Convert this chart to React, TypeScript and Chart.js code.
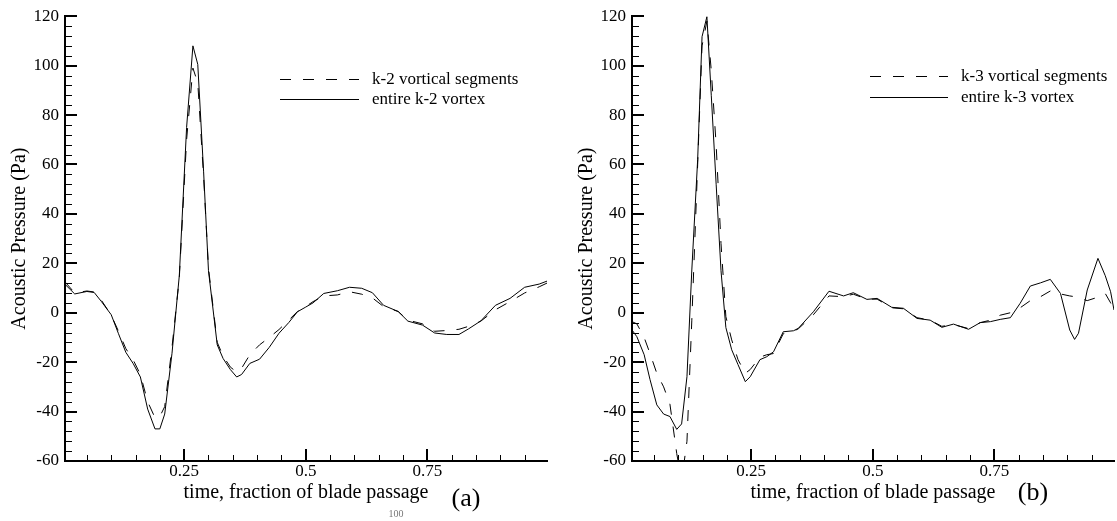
import React, { useEffect, useRef } from 'react';
import { Chart, registerables } from 'chart.js';

Chart.register(...registerables);

// ---------- data ----------
const T_A = [0.005, 0.025, 0.05, 0.065, 0.08, 0.1, 0.115, 0.13, 0.145, 0.16, 0.175, 0.19, 0.2, 0.21, 0.225, 0.24, 0.255, 0.268, 0.278, 0.29, 0.3, 0.318, 0.33, 0.345, 0.358, 0.368, 0.385, 0.405, 0.425, 0.445, 0.465, 0.483, 0.5, 0.515, 0.537, 0.565, 0.59, 0.615, 0.637, 0.66, 0.69, 0.71, 0.74, 0.765, 0.79, 0.815, 0.835, 0.86, 0.89, 0.92, 0.95, 0.98, 0.996];
const SEG_A = [12.5, 8, 8.8, 8.4, 5, -1, -7.5, -14.5, -19, -25, -36, -42.5, -42, -38, -14, 14, 70, 99, 93, 55, 18, -12, -17.5, -22, -24, -22.5, -17, -13, -10, -6.8, -3, 0.5, 2.5, 4.5, 6.8, 7.2, 8.5, 7.5, 6, 2.5, 0.5, -3, -4.5, -7.5, -7.2, -6.7, -5.5, -3.4, 1.2, 4.5, 8, 10.5, 12];
const ENT_A = [11.5, 7.6, 8.6, 8.2, 4.5, -0.8, -8.5, -16, -20.5, -26, -39, -47, -47, -41, -16.4, 15, 75, 108, 100.5, 57, 17, -13, -18.5, -23, -26, -25, -20.5, -18.8, -14, -8.3, -4, 0.4, 2.3, 4, 7.8, 8.9, 10.3, 9.9, 8.1, 3, 0.5, -3.4, -5, -8.2, -8.8, -8.8, -6.5, -3.3, 3, 5.8, 10.3, 11.6, 12.8];

const T_B = [0.005, 0.015, 0.03, 0.042, 0.056, 0.07, 0.083, 0.097, 0.107, 0.118, 0.128, 0.14, 0.149, 0.159, 0.168, 0.178, 0.188, 0.198, 0.21, 0.223, 0.238, 0.248, 0.268, 0.282, 0.296, 0.316, 0.337, 0.347, 0.378, 0.41, 0.44, 0.46, 0.488, 0.509, 0.539, 0.563, 0.591, 0.618, 0.642, 0.666, 0.697, 0.721, 0.742, 0.762, 0.783, 0.803, 0.824, 0.845, 0.865, 0.886, 0.905, 0.915, 0.923, 0.941, 0.963, 0.978, 0.989, 0.996];
const SEG_B = [-3.6, -4.5, -10, -16.5, -24.5, -30, -37, -57, -68, -52, -3, 60, 108, 118, 98, 68, 28, -1.6, -11, -19, -24.5, -23, -18, -17, -16.5, -8.5, -7.5, -6.5, -0.8, 6.8, 6.5, 7.5, 5.5, 5.5, 2, 1.6, -2, -3, -5.5, -4.8, -6.4, -4, -3, -1, 0, 2, 4.9, 6.5, 8.8, 7.6, 6.8, 6.5, 6, 4.9, 6.3, 7.8, 4, 1];
const ENT_B = [-7, -9.7, -17, -27, -37.3, -41, -42, -47.2, -45, -25.9, 17.3, 62, 111.7, 119.8, 88, 52, 17, -6, -15, -21, -27.9, -25.9, -19, -17.8, -15.8, -7.7, -7.3, -6.3, 0.4, 8.7, 6.8, 8.1, 5.4, 5.8, 2.2, 1.8, -2.3, -3, -5.9, -4.6, -6.7, -4, -3.6, -2.7, -2, 3.8, 10.8, 12.1, 13.5, 7.8, -7, -10.8, -8.3, 9.2, 22, 15, 8.5, 1.1];

const X_TICKS = [0.05, 0.1, 0.15, 0.2, 0.25, 0.3, 0.35, 0.4, 0.45, 0.5, 0.55, 0.6, 0.65, 0.7, 0.75, 0.8, 0.85, 0.9, 0.95];
const X_MAJOR = [0.25, 0.5, 0.75];
const X_LABELS = ['0.25', '0.5', '0.75'];
const Y_TICKS = [-60, -56, -52, -48, -44, -40, -36, -32, -28, -24, -20, -16, -12, -8, -4, 0, 4, 8, 12, 16, 20, 24, 28, 32, 36, 40, 44, 48, 52, 56, 60, 64, 68, 72, 76, 80, 84, 88, 92, 96, 100, 104, 108, 112, 116, 120];
const Y_MAJOR = [-60, -40, -20, 0, 20, 40, 60, 80, 100, 120];
const Y_LABELS = ['-60', '-40', '-20', '0', '20', '40', '60', '80', '100', '120'];

const LEGEND_A = ['k-2 vortical segments', 'entire k-2 vortex'];
const LEGEND_B = ['k-3 vortical segments', 'entire k-3 vortex'];
const PANEL_A = '(a)';
const PANEL_B = '(b)';
const PAGE_NOTE = '100';
const X_TITLE = 'time, fraction of blade passage';
const Y_TITLE = 'Acoustic Pressure (Pa)';

// ---------- styling ----------
const FONT = '"Liberation Serif", "Times New Roman", serif';
Chart.defaults.font.family = FONT;
Chart.defaults.color = '#000';

const near = (a: number, b: number) => Math.abs(a - b) < 1e-6;
const idxIn = (arr: number[], v: number) => arr.findIndex((m) => near(m, v));

const tickPlugin = {
  id: 'inwardTicks',
  afterDraw(chart: any) {
    const { ctx, chartArea } = chart;
    const xs = chart.scales.x;
    const ys = chart.scales.y;
    ctx.save();
    ctx.strokeStyle = '#000';
    ctx.setLineDash([]);
    ys.ticks.forEach((t: any) => {
      const major = idxIn(Y_MAJOR, t.value) >= 0;
      const y = ys.getPixelForValue(t.value);
      ctx.lineWidth = major ? 2 : 1;
      const yy = major ? Math.round(y) : Math.round(y) + 0.5;
      ctx.beginPath();
      ctx.moveTo(chartArea.left, yy);
      ctx.lineTo(chartArea.left + (major ? 12 : 7), yy);
      ctx.stroke();
    });
    xs.ticks.forEach((t: any) => {
      const major = idxIn(X_MAJOR, t.value) >= 0;
      const x = xs.getPixelForValue(t.value);
      ctx.lineWidth = major ? 2 : 1;
      const xx = major ? Math.round(x) : Math.round(x) + 0.5;
      ctx.beginPath();
      ctx.moveTo(xx, chartArea.bottom);
      ctx.lineTo(xx, chartArea.bottom - (major ? 12 : 6));
      ctx.stroke();
    });
    ctx.restore();
  },
};

function overlayPlugin(o: {
  lineX0: number; lineX1: number; textX: number; legendY: number[];
  panel: string; panelX: number; panelY: number; note?: string; noteX?: number; noteY?: number;
}) {
  return {
    id: 'overlay',
    afterDraw(chart: any) {
      const ctx = chart.ctx;
      ctx.save();
      ctx.strokeStyle = '#000';
      ctx.fillStyle = '#000';
      ctx.lineWidth = 1;
      chart.data.datasets.forEach((ds: any, i: number) => {
        const y = o.legendY[i];
        ctx.setLineDash(ds.borderDash || []);
        ctx.beginPath();
        ctx.moveTo(o.lineX0, y + 0.5);
        ctx.lineTo(o.lineX1, y + 0.5);
        ctx.stroke();
        ctx.setLineDash([]);
        ctx.font = `17px ${FONT}`;
        ctx.textAlign = 'left';
        ctx.textBaseline = 'alphabetic';
        ctx.fillText(ds.label, o.textX, y + 5);
      });
      ctx.font = `26px ${FONT}`;
      ctx.textAlign = 'center';
      ctx.textBaseline = 'alphabetic';
      ctx.fillText(o.panel, o.panelX, o.panelY);
      if (o.note) {
        ctx.font = `10px ${FONT}`;
        ctx.fillStyle = '#777';
        ctx.fillText(o.note, o.noteX, o.noteY);
      }
      ctx.restore();
    },
  };
}

function buildConfig(
  t: number[], seg: number[], ent: number[], legend: string[], padRight: number, overlay: any
): any {
  return {
    type: 'line',
    data: {
      datasets: [
        {
          label: legend[0],
          data: t.map((x, i) => ({ x, y: seg[i] })),
          borderColor: '#000',
          borderWidth: 1,
          borderDash: [11, 12],
          pointRadius: 0,
          tension: 0,
          fill: false,
        },
        {
          label: legend[1],
          data: t.map((x, i) => ({ x, y: ent[i] })),
          borderColor: '#000',
          borderWidth: 1,
          pointRadius: 0,
          tension: 0,
          fill: false,
        },
      ],
    },
    options: {
      responsive: false,
      animation: false,
      devicePixelRatio: 1,
      layout: { padding: { top: 16, right: padRight, left: 0, bottom: 0 } },
      plugins: {
        legend: { display: false },
        tooltip: { enabled: false },
        title: { display: false },
      },
      scales: {
        x: {
          type: 'linear',
          min: 0.005,
          max: 0.996,
          afterBuildTicks: (s: any) => {
            s.ticks = X_TICKS.map((v) => ({ value: v }));
          },
          afterFit: (s: any) => {
            s.height = 60;
          },
          grid: { display: false, drawTicks: false },
          border: { display: true, color: '#000', width: 2 },
          ticks: {
            autoSkip: false,
            maxRotation: 0,
            minRotation: 0,
            padding: 0,
            color: '#000',
            font: { family: FONT, size: 17 },
            callback: (v: any) => {
              const i = idxIn(X_MAJOR, Number(v));
              return i >= 0 ? X_LABELS[i] : '';
            },
          },
          title: {
            display: true,
            text: X_TITLE,
            color: '#000',
            font: { family: FONT, size: 20 },
            padding: { top: 0, bottom: 16 },
          },
        },
        y: {
          type: 'linear',
          min: -60,
          max: 120,
          afterBuildTicks: (s: any) => {
            s.ticks = Y_TICKS.map((v) => ({ value: v }));
          },
          afterFit: (s: any) => {
            s.width = 65;
          },
          grid: { display: false, drawTicks: false },
          border: { display: true, color: '#000', width: 2 },
          ticks: {
            autoSkip: false,
            padding: 6,
            color: '#000',
            font: { family: FONT, size: 17 },
            callback: (v: any) => {
              const i = idxIn(Y_MAJOR, Number(v));
              return i >= 0 ? Y_LABELS[i] : '';
            },
          },
          title: {
            display: true,
            text: Y_TITLE,
            color: '#000',
            font: { family: FONT, size: 20 },
            padding: { top: 8, bottom: 0 },
          },
        },
      },
    },
    plugins: [tickPlugin, overlay],
  };
}

export default function App() {
  const refA = useRef<HTMLCanvasElement>(null);
  const refB = useRef<HTMLCanvasElement>(null);

  useEffect(() => {
    const a = new Chart(
      refA.current as HTMLCanvasElement,
      buildConfig(T_A, SEG_A, ENT_A, LEGEND_A, 13,
        overlayPlugin({
          lineX0: 280, lineX1: 359, textX: 372, legendY: [79, 99], panel: PANEL_A, panelX: 466, panelY: 506,
          note: PAGE_NOTE, noteX: 396, noteY: 517,
        }))
    );
    const b = new Chart(
      refB.current as HTMLCanvasElement,
      buildConfig(T_B, SEG_B, ENT_B, LEGEND_B, 3,
        overlayPlugin({ lineX0: 303, lineX1: 381, textX: 394, legendY: [76, 97], panel: PANEL_B, panelX: 466, panelY: 500 }))
    );
    return () => {
      a.destroy();
      b.destroy();
    };
  }, []);

  return (
    <div style={{ position: 'fixed', left: 0, top: 0, width: 1117, height: 521, background: '#fff', overflow: 'hidden' }}>
      <canvas ref={refA} width={560} height={521} style={{ position: 'absolute', left: 0, top: 0, width: 560, height: 521 }} />
      <canvas ref={refB} width={550} height={521} style={{ position: 'absolute', left: 567, top: 0, width: 550, height: 521 }} />
    </div>
  );
}
